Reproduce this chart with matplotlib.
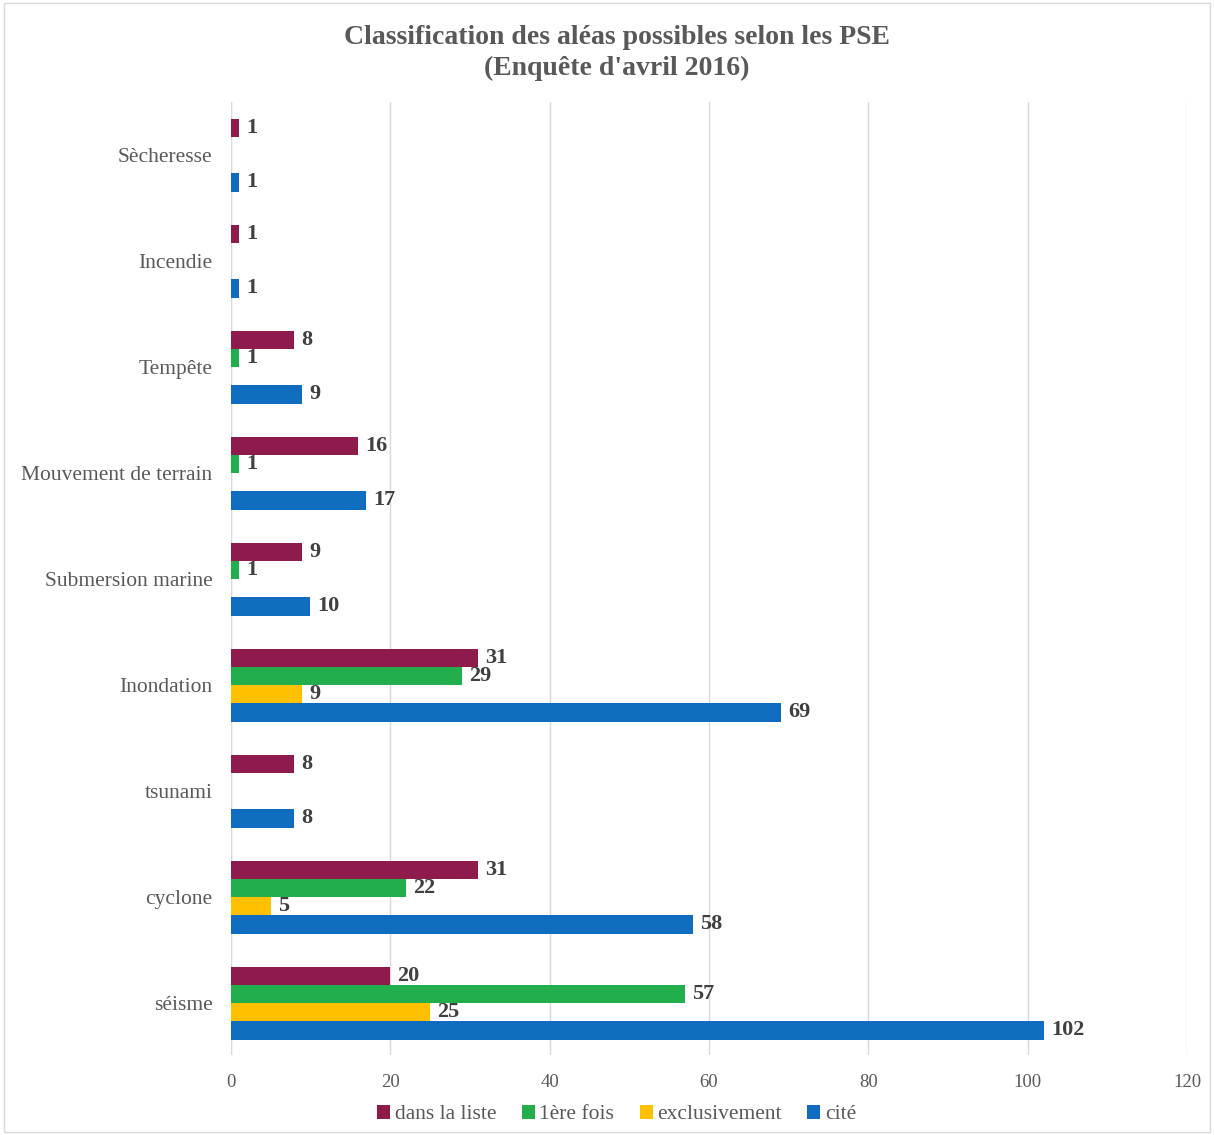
import numpy as np
import matplotlib
matplotlib.use("Agg")
import matplotlib.pyplot as plt

plt.rcParams['font.family'] = ['Liberation Serif', 'DejaVu Serif']

categories = ["séisme", "cyclone", "tsunami", "Inondation", "Submersion marine",
              "Mouvement de terrain", "Tempête", "Incendie", "Sècheresse"]
dans_la_liste = [20, 31, 8, 31, 9, 16, 8, 1, 1]
premiere_fois = [57, 22, 0, 29, 1, 1, 1, 0, 0]
exclusivement = [25, 5, 0, 9, 0, 0, 0, 0, 0]
cite = [102, 58, 8, 69, 10, 17, 9, 1, 1]

series = [("dans la liste", dans_la_liste, "#8E1B4C"),
          ("1ère fois", premiere_fois, "#22AE4C"),
          ("exclusivement", exclusivement, "#FFC000"),
          ("cité", cite, "#0F6CBE")]
offsets = [1.5, 0.5, -0.5, -1.5]
h = 0.172

fig = plt.figure(figsize=(12.14, 11.35), dpi=100)
ax = fig.add_axes([0.190, 0.0705, 0.788, 0.8395])

y = np.arange(len(categories))
for (name, vals, col), off in zip(series, offsets):
    ax.barh(y + off * h, vals, height=h, color=col, label=name, zorder=3)
    for yi, v in zip(y, vals):
        if v > 0:
            ax.text(v + 0.9, yi + off * h, str(v), va='center', ha='left',
                    fontsize=16, fontweight='bold', color='#404040', zorder=4)

ax.set_xlim(0, 120)
ax.set_ylim(-0.49, 8.5)
ax.set_xticks(np.arange(0, 121, 20))
ax.set_yticks(y)
ax.set_yticklabels(categories)
ax.xaxis.grid(True, color='#D9D9D9', linewidth=1, zorder=0)
for s in ax.spines.values():
    s.set_visible(False)
ax.axvline(0, color='#D9D9D9', linewidth=1, zorder=1)
ax.tick_params(axis='y', length=0, labelsize=15.5, labelcolor='#595959', pad=13)
ax.tick_params(axis='x', length=0, labelsize=13.5, labelcolor='#595959', pad=14)

fig.text(0.508, 0.978, "Classification des aléas possibles selon les PSE\n(Enquête d'avril 2016)",
         ha='center', va='top', fontsize=20, fontweight='bold', color='#595959',
         linespacing=1.3)

handles, labels = ax.get_legend_handles_labels()
fig.legend(handles, labels, loc='center', bbox_to_anchor=(0.508, 0.018), ncol=4,
           frameon=False, fontsize=15.5, labelcolor='#595959', handlelength=0.6,
           handleheight=0.6, handletextpad=0.2, columnspacing=1.2)

fig.patches.append(plt.Rectangle((0.003, 0.003), 0.994, 0.994, transform=fig.transFigure,
                                 fill=False, edgecolor='#D9D9D9', linewidth=1))

fig.savefig("out.png", dpi=100)
